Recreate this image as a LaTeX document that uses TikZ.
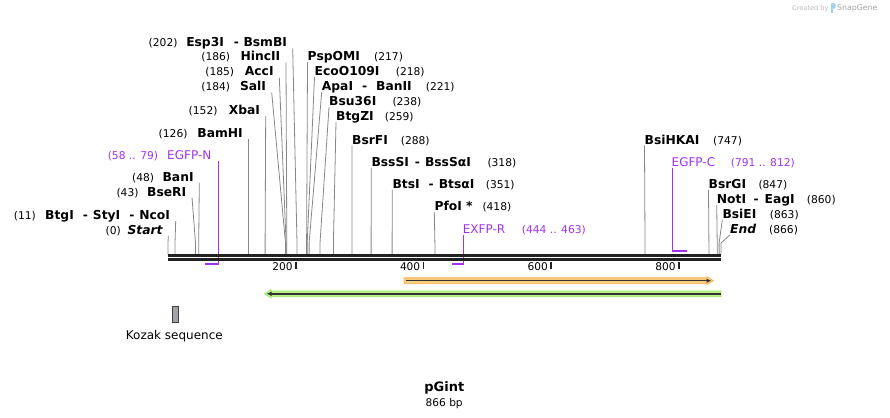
\documentclass[tikz,border=0pt]{standalone}
\usepackage{fontspec}
\setmainfont{DejaVu Sans}
\usepackage{xcolor}
\usetikzlibrary{arrows.meta,positioning}
\definecolor{cutgray}{RGB}{135,135,135}
\definecolor{primer}{RGB}{160,50,240}
\definecolor{seqblack}{RGB}{34,34,34}
\definecolor{fwdfill}{RGB}{250,204,124}
\definecolor{fwdedge}{RGB}{246,180,90}
\definecolor{revfill}{RGB}{184,240,136}
\definecolor{revedge}{RGB}{158,226,106}
\definecolor{kozak}{RGB}{160,163,168}
\definecolor{logoblue}{RGB}{165,213,238}
\newcommand{\enzsep}{\hspace{9pt}-\hspace{5pt}}

\begin{document}
\begin{tikzpicture}[x=1pt, y=-1pt, >=Latex,
  enzname/.style={inner sep=0pt, font=\fontsize{12.3}{14}\selectfont\bfseries},
  enznum/.style={inner sep=0pt, font=\fontsize{10.7}{13}\selectfont},
  primername/.style={inner sep=0pt, text=primer, font=\fontsize{12}{14}\selectfont},
  primernum/.style={inner sep=0pt, text=primer, font=\fontsize{10.7}{13}\selectfont},
  cutline/.style={cutgray, line width=0.8pt},
  primerline/.style={primer, line width=1.6pt},
  seqline/.style={seqblack, line width=2.5pt},
  tickmark/.style={seqblack, line width=1.6pt},
  ticklabel/.style={inner sep=0pt, font=\fontsize{10.6}{13}\selectfont},
  featline/.style={black!80, line width=1.4pt}]
\useasboundingbox (0,0) rectangle (890,417);

% Cut sites, labels on the left
\foreach \tx/\by/\sx/\nm/\nb/\nx [count=\i] in {
  292.7/47/297.0/{Esp3I\hspace{10pt}-\hspace{4.5pt}BsmBI}/202/176.7,
  286/61/286.8/HincII/186/229.3,
  279.3/76/286.1/AccI/185/233.3,
  271.7/91/285.5/SalI/184/229.3,
  265.7/114.5/265.1/XbaI/152/216.7,
  248.5/137/248.5/BamHI/126/186.7,
  199.3/181/198.7/BanI/48/153.3,
  192/196/195.5/BseRI/43/137.7,
  175.7/219.3/175.0/{BtgI\enzsep StyI\enzsep NcoI}/11/35,
  168.3/234/168/{\itshape Start}/0/120}
{
  \node[enzname, anchor=base east] (l\i) at (\tx-5.5, \by) {\nm};
  \node[enznum, anchor=base east] (ln\i) at (\nx+1, \by) {(\nb)};
  \coordinate (lk\i) at (\sx, 243);
  \coordinate (lb\i) at (\sx, 254.5);
  \draw[cutline] ([xshift=5.5pt,yshift=-1.5pt]l\i.base east) -- (lk\i) -- (lb\i);
}

% Cut sites, labels on the right
\foreach \tx/\by/\sx/\nm/\nb/\nx [count=\i] in {
  307.5/60.7/306.6/PspOMI/217/375,
  314.5/75.7/307.2/EcoO109I/218/396.7,
  321.7/90.7/309.1/{ApaI\hspace{9pt}-\hspace{9pt}BanII}/221/426.7,
  329/105.7/320.0/Bsu36I/238/393.3,
  336/120.7/333.4/BtgZI/259/385.7,
  352/144/351.9/BsrFI/288/401.7,
  371.3/166/371.1/{BssSI\hspace{6pt}-\hspace{5pt}BssSαI}/318/488.3,
  392.3/188.3/392.1/{BtsI\enzsep BtsαI}/351/486.7,
  434.3/210.7/434.9/{PfoI *}/418/483.3,
  644.5/144/645.0/BsiHKAI/747/714,
  708.5/188.3/708.9/BsrGI/847/759.3,
  716.7/203.3/717.2/{NotI\hspace{7.5pt}-\hspace{6pt}EagI}/860/807.7,
  722.3/218.3/719.1/BsiEI/863/770.7,
  730/233.3/721.0/{\itshape End}/866/770}
{
  \node[enzname, anchor=base west] (r\i) at (\tx, \by) {\nm};
  \node[enznum, anchor=base west] (rn\i) at (\nx-1, \by) {(\nb)};
  \coordinate (rk\i) at (\sx, 243);
  \coordinate (rb\i) at (\sx, 254.5);
  \draw[cutline] ([yshift=-1.5pt]r\i.base west) -- (rk\i) -- (rb\i);
}

% Primers
\node[primername, anchor=base east] (pn) at (211.5,159.3) {EGFP-N};
\node[primernum, anchor=base east] (pnn) at (158.3,159.3) {(58 .. 79)};
\coordinate (pnA) at (218.4,264.2);
\coordinate (pnB) at (205,264.2);
\draw[primerline] ([xshift=6.9pt,yshift=-1.7pt]pn.base east) -- (pnA) -- (pnB);

\node[primername, anchor=base west] (px) at (462.7,233.3) {EXFP-R};
\node[primernum, anchor=base west] (pxn) at (521.7,233.3) {(444 .. 463)};
\coordinate (pxA) at (463.5,264.2);
\coordinate (pxB) at (451.5,264.2);
\draw[primerline] ([xshift=0.8pt,yshift=-1.7pt]px.base west) -- (pxA) -- (pxB);

\node[primername, anchor=base west] (pc) at (671.5,166) {EGFP-C};
\node[primernum, anchor=base west] (pcn) at (730.7,166) {(791 .. 812)};
\coordinate (pcA) at (672.5,251);
\coordinate (pcB) at (686.5,251);
\draw[primerline] ([xshift=1pt,yshift=-2pt]pc.base west) -- (pcA) -- (pcB);

% Sequence
\coordinate (seqL) at (168,255.3);
\coordinate (seqR) at (721,255.3);
\draw[seqline] (seqL) -- (seqR);
\draw[seqline] ([yshift=-4.2pt]seqL) -- ([yshift=-4.2pt]seqR);

% Ruler
\foreach \t in {200,400,600,800} {
  \coordinate (tk\t) at (168+0.63857*\t, 261.5);
  \draw[tickmark] (tk\t) -- ++(0,7);
  \node[ticklabel, anchor=base east] (tl\t) at ([xshift=-3pt,yshift=-9pt]tk\t) {\t};
}

% Features
\filldraw[fill=fwdfill, draw=fwdedge, line width=0.6pt]
  (404,277.7) -- (707,277.7) -- (707,276.6) -- (713.5,280.7) -- (707,284.8)
  -- (707,283.7) -- (404,283.7) -- cycle;
\draw[featline, -{Latex[length=5pt,width=4.5pt]}] (406,280.7) -- (711.5,280.7);
\filldraw[fill=revfill, draw=revedge, line width=0.6pt]
  (721,290.8) -- (271,290.8) -- (271,289.7) -- (264.5,293.8) -- (271,297.9)
  -- (271,296.8) -- (721,296.8) -- cycle;
\draw[featline, -{Latex[length=5pt,width=4.5pt]}] (721,293.8) -- (266.5,293.8);

% Kozak sequence
\filldraw[fill=kozak, draw=black!75, line width=0.6pt] (172,306) rectangle (178.5,322);
\node[anchor=base, inner sep=0pt, font=\fontsize{12}{14}\selectfont] (kozak) at (174.3,339) {Kozak sequence};

% Title
\node[anchor=base, inner sep=0pt, font=\fontsize{13}{15}\selectfont\bfseries] (title) at (444.3,391) {pGint};
\node[anchor=base, inner sep=0pt, font=\fontsize{10.6}{13}\selectfont] (size) at (444.2,406) {866 bp};

% Watermark
\node[anchor=base west, inner sep=0pt, text=black!27, font=\fontsize{6.6}{8}\selectfont] (made) at (792,10.5) {Created by};
\fill[logoblue] (831,3.5) rectangle (832.8,13.5);
\fill[logoblue] (832.8,3.5) .. controls (836.5,3.5) and (836.5,9) .. (832.8,9) -- cycle;
\node[anchor=base west, inner sep=0pt, text=black!35, font=\fontsize{7.8}{9}\selectfont] (brand) at (837,11) {SnapGene};
\end{tikzpicture}
\end{document}
